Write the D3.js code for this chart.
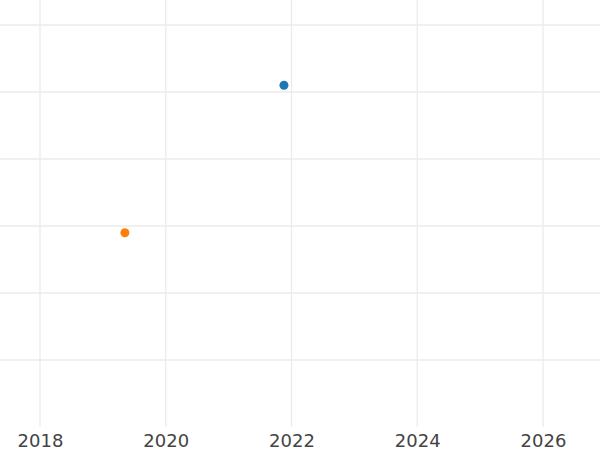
<!DOCTYPE html>
<html>
<head>
<meta charset="utf-8">
<script src="https://cdn.jsdelivr.net/npm/d3@7"></script>
<style>
  body { margin: 0; background: #fff; }
  .tick text { font-family: "DejaVu Sans", sans-serif; fill: #444; }
</style>
</head>
<body>
<div id="chart"></div>
<script>
// data
let years = [2021.88, 2019.35]
let values = [5.1, 2.9]
let colors = ["#1f77b4", "#ff7f0e"]
let xTicks = [2018, 2020, 2022, 2024, 2026]
let yTicks = [1, 2, 3, 4, 5, 6]

let width = 600, height = 450
let plotBottom = 427

let x = d3.scaleLinear()
    .domain([2018, 2026])
    .range([40, 543])

let y = d3.scaleLinear()
    .domain([0, 6])
    .range([plotBottom, 25])

let svg = d3.select("#chart").append("svg")
    .attr("width", width)
    .attr("height", height)

// horizontal grid
svg.append("g")
    .selectAll("line")
    .data(yTicks)
    .join("line")
    .attr("x1", 0)
    .attr("x2", width)
    .attr("y1", d => y(d))
    .attr("y2", d => y(d))
    .attr("stroke", "#ebebeb")
    .attr("stroke-width", 1.3)

// vertical grid
svg.append("g")
    .selectAll("line")
    .data(xTicks)
    .join("line")
    .attr("x1", d => x(d))
    .attr("x2", d => x(d))
    .attr("y1", 0)
    .attr("y2", plotBottom)
    .attr("stroke", "#ebebeb")
    .attr("stroke-width", 1.3)

// x axis labels
let xAxis = d3.axisBottom(x)
    .tickValues(xTicks)
    .tickFormat(d3.format("d"))
    .tickSize(0)
    .tickPadding(7)

svg.append("g")
    .attr("transform", "translate(0," + plotBottom + ")")
    .call(xAxis)
    .call(g => g.select(".domain").remove())
    .selectAll("text")
    .style("font-size", "18px")

// points
svg.append("g")
    .selectAll("circle")
    .data(years)
    .join("circle")
    .attr("cx", d => x(d))
    .attr("cy", (d, i) => y(values[i]))
    .attr("r", 4.5)
    .attr("fill", (d, i) => colors[i])
</script>
</body>
</html>
